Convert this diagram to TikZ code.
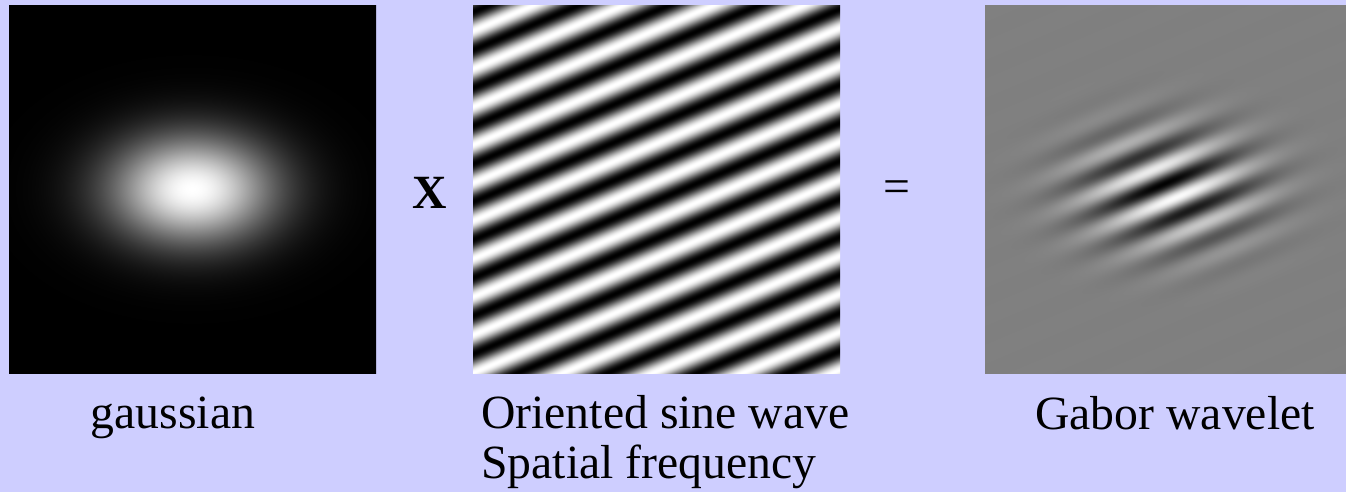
\documentclass[tikz,border=0pt]{standalone}
\usepackage{fontspec}
\setmainfont{Liberation Serif}
\definecolor{bgc}{RGB}{206,206,255}
% gaussian envelope: sigma_x = 58px, sigma_y = 38px, centred
\pgfdeclarefunctionalshading{gaussimg}{\pgfpointorigin}{\pgfpoint{368bp}{368bp}}{}{
  184 sub dup mul 2888 div
  exch 184 sub dup mul 6728 div
  add neg 2.71828 exch exp
  dup dup
}
% oriented sine wave: horizontal period 90px, vertical period 38px
\pgfdeclarefunctionalshading{sineimg}{\pgfpointorigin}{\pgfpoint{368bp}{368bp}}{}{
  9.4737 mul neg exch 4 mul add 2.3 add
  cos 0.5 mul 0.5 add
  dup dup
}
% gabor = gaussian x sine (panel cut by the right edge of the page)
\pgfdeclarefunctionalshading{gaborimg}{\pgfpointorigin}{\pgfpoint{362bp}{368bp}}{}{
  184 sub exch 184 sub exch
  2 copy dup mul 2888 div exch dup mul 6728 div add neg 2.71828 exch exp
  3 1 roll
  9.4737 mul neg exch 4 mul add 250 add cos
  mul 0.5 mul 0.5 add
  dup dup
}
\tikzset{
  panel/.style={inner sep=0pt, outer sep=0pt, anchor=north west},
  lab/.style={inner sep=0pt, font=\fontsize{47.7bp}{50bp}\selectfont},
  oplab/.style={inner sep=0pt, font=\fontsize{47.7bp}{50bp}\selectfont\bfseries},
}
\begin{document}
\begin{tikzpicture}[x=1bp,y=-1bp]
\useasboundingbox (0,0) rectangle (1346,492);
\fill[bgc] (0,0) rectangle (1346,492);
\node[panel] (gauss) at (8,5) {\pgfuseshading{gaussimg}};
\node[panel] (sine) at (472,5) {\pgfuseshading{sineimg}};
\node[panel] (gabor) at (984,5) {\pgfuseshading{gaborimg}};
\node[oplab] (times) at (430,193) {X};
\node[lab] (equals) at (897,192) {=};
\node[lab, anchor=base] (glab) at (173,428) {gaussian};
\node[lab, anchor=base west] (slab1) at (481,428) {Oriented sine wave};
\node[lab, anchor=base west] (slab2) at (481,478) {Spatial frequency};
\node[lab, anchor=base] (wlab) at (1175,429) {Gabor wavelet};
\end{tikzpicture}
\end{document}
